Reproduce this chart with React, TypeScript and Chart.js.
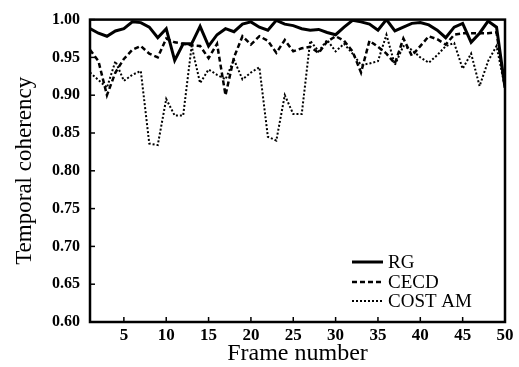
import React, { useEffect, useRef } from "react";
import { Chart, registerables } from "chart.js";

Chart.register(...registerables);

const FRAMES = Array.from({ length: 50 }, (_, i) => i + 1);
const RG = [0.988,0.982,0.978,0.985,0.988,0.997,0.996,0.990,0.976,0.988,0.946,0.968,0.968,0.991,0.965,0.980,0.988,0.984,0.994,0.997,0.990,0.986,0.999,0.994,0.992,0.988,0.986,0.987,0.983,0.980,0.990,0.999,0.997,0.994,0.986,1.000,0.985,0.990,0.995,0.996,0.993,0.986,0.976,0.990,0.995,0.970,0.982,0.998,0.990,0.910];
const CECD = [0.960,0.945,0.900,0.930,0.948,0.960,0.965,0.955,0.950,0.975,0.970,0.968,0.966,0.965,0.949,0.968,0.900,0.950,0.978,0.967,0.978,0.972,0.956,0.973,0.958,0.962,0.964,0.956,0.971,0.978,0.972,0.958,0.930,0.972,0.964,0.955,0.942,0.975,0.952,0.965,0.978,0.974,0.967,0.980,0.982,0.982,0.982,0.982,0.983,0.910];
const COST_AM = [0.930,0.920,0.910,0.945,0.919,0.927,0.932,0.836,0.834,0.895,0.873,0.873,0.965,0.916,0.934,0.927,0.921,0.947,0.921,0.930,0.937,0.845,0.840,0.900,0.875,0.875,0.972,0.958,0.973,0.958,0.968,0.955,0.940,0.942,0.945,0.980,0.940,0.965,0.960,0.950,0.943,0.953,0.965,0.969,0.935,0.955,0.912,0.945,0.965,0.910];
const SERIES_NAMES = ["RG", "CECD", "COST AM"];
const X_TICKS = [5, 10, 15, 20, 25, 30, 35, 40, 45, 50];
const Y_TICKS = [0.6, 0.65, 0.7, 0.75, 0.8, 0.85, 0.9, 0.95, 1.0];

const SERIF = "'Liberation Serif', 'Times New Roman', serif";

const framePlugin = {
  id: "frameAndLegend",
  afterDraw(chart: any) {
    const { ctx, chartArea } = chart;
    const { left, right, top, bottom } = chartArea;
    ctx.save();
    ctx.strokeStyle = "#000";
    ctx.lineWidth = 2.5;
    ctx.setLineDash([]);
    ctx.strokeRect(left, top, right - left, bottom - top);
    ctx.lineWidth = 1.5;
    const xs = chart.scales.x;
    const ys = chart.scales.y;
    X_TICKS.forEach((v) => {
      const px = xs.getPixelForValue(v);
      ctx.beginPath();
      ctx.moveTo(px, bottom);
      ctx.lineTo(px, bottom - 5);
      ctx.stroke();
    });
    Y_TICKS.forEach((v) => {
      const py = ys.getPixelForValue(v);
      ctx.beginPath();
      ctx.moveTo(left, py);
      ctx.lineTo(left + 5, py);
      ctx.stroke();
    });
    const lx0 = 352;
    const lx1 = 383;
    const rows = [262, 282, 301];
    chart.data.datasets.forEach((ds: any, i: number) => {
      const y = rows[i];
      ctx.lineWidth = ds.borderWidth;
      ctx.setLineDash(ds.borderDash || []);
      ctx.beginPath();
      ctx.moveTo(lx0, y);
      ctx.lineTo(lx1, y);
      ctx.stroke();
      ctx.setLineDash([]);
      ctx.fillStyle = "#000";
      ctx.font = `19px ${SERIF}`;
      ctx.textBaseline = "middle";
      ctx.textAlign = "left";
      ctx.fillText(ds.label, 388, y + 1);
    });
    ctx.restore();
  },
};

export default function App() {
  const ref = useRef<HTMLCanvasElement | null>(null);
  useEffect(() => {
    if (!ref.current) return;
    const mk = (vals: number[]) => FRAMES.map((f, i) => ({ x: f, y: vals[i] }));
    const chart = new Chart(ref.current, {
      type: "line",
      data: {
        datasets: [
          { label: SERIES_NAMES[0], data: mk(RG), borderColor: "#000", borderWidth: 3, pointRadius: 0, tension: 0, fill: false },
          { label: SERIES_NAMES[1], data: mk(CECD), borderColor: "#000", borderWidth: 2.5, borderDash: [5, 3], pointRadius: 0, tension: 0, fill: false },
          { label: SERIES_NAMES[2], data: mk(COST_AM), borderColor: "#000", borderWidth: 2, borderDash: [2, 2], pointRadius: 0, tension: 0, fill: false },
        ],
      },
      options: {
        animation: false,
        responsive: false,
        devicePixelRatio: 1,
        layout: { padding: { top: 19, right: 14, left: 0, bottom: 0 } },
        plugins: { legend: { display: false }, tooltip: { enabled: false } },
        scales: {
          x: {
            type: "linear",
            min: 1,
            max: 50,
            afterBuildTicks: (s: any) => { s.ticks = X_TICKS.map((v) => ({ value: v })); },
            afterFit: (s: any) => { s.height = 45; },
            grid: { display: false, drawTicks: false },
            border: { display: false },
            ticks: { color: "#000", padding: 3, maxRotation: 0, autoSkip: false, font: { family: SERIF, size: 17, weight: "bold" } },
            title: { display: true, text: "Frame number", color: "#000", padding: { top: 0, bottom: -1 }, font: { family: SERIF, size: 24 } },
          },
          y: {
            min: 0.6,
            max: 1.0,
            afterBuildTicks: (s: any) => { s.ticks = Y_TICKS.map((v) => ({ value: v })); },
            afterFit: (s: any) => { s.width = 90; },
            grid: { display: false, drawTicks: false },
            border: { display: false },
            ticks: { color: "#000", padding: 10, autoSkip: false, font: { family: SERIF, size: 16, weight: "bold" }, callback: (v: any) => Number(v).toFixed(2) },
            title: { display: true, text: "Temporal coherency", color: "#000", padding: { top: 11, bottom: 0 }, font: { family: SERIF, size: 23 } },
          },
        },
      },
      plugins: [framePlugin],
    } as any);
    return () => chart.destroy();
  }, []);
  return (
    <div style={{ position: "absolute", left: 0, top: 0, width: 519, height: 367, background: "#fff" }}>
      <canvas ref={ref} width={519} height={367} />
    </div>
  );
}
